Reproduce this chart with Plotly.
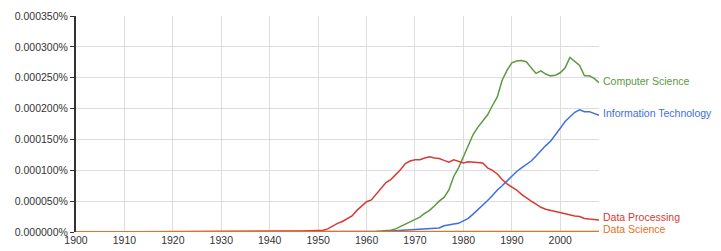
import plotly.graph_objects as go

years = list(range(1900, 2009))

# values in millionths of a percent (1e-6 %)
data_processing = (
    [0.4, 0.5, 0.6, 0.6, 0.6, 0.5, 0.5, 0.4, 0.4, 0.4,
     0.4, 0.4, 0.4, 0.4, 0.4, 0.4, 0.4, 0.4, 0.4, 0.4,
     0.4, 0.4, 0.4, 0.4, 0.4, 0.4, 0.5, 0.6, 0.7, 0.7,
     0.7, 0.7, 0.7, 0.6, 0.6, 0.6, 0.6, 0.6, 0.6, 0.7,
     0.8, 1.0, 1.2, 1.5, 1.5, 1.6, 1.6, 1.8, 2.0, 1.8,
     2.5, 3.0, 5.0, 10, 14, 17, 21, 26, 35, 42,
     49, 52, 61, 71, 80, 85, 93, 101, 111, 115,
     117, 117, 120, 122, 120, 119, 116, 113, 117, 115,
     112, 114, 113, 112, 112, 104, 100, 94, 85, 78,
     73, 68, 61, 55, 50, 45, 40, 37, 35, 33,
     31, 29, 28, 26, 25, 22, 21, 20, 19.5]
)
computer_science = (
    [0] * 55 +
    [0.2, 0.2, 0.3, 0.3, 0.4,
     0.5, 0.8, 1.0, 1.5, 2.0, 3, 5, 9, 13, 17,
     20, 24, 30, 35, 42, 50, 56, 68, 90, 104,
     122, 140, 158, 170, 180, 190, 205, 219, 246, 262,
     274, 277, 278, 276, 266, 257, 261, 256, 253, 254,
     258, 266, 283, 276, 270, 253, 253, 249, 242]
)
information_technology = (
    [0] * 56 +
    [0.2, 0.3, 0.4, 0.4,
     0.5, 0.6, 0.8, 1.0, 1.2, 1.5, 2.0, 2.5, 3.0, 3.5,
     4.0, 4.5, 5.0, 5.5, 6.0, 6.5, 10, 12, 13, 14,
     18, 22, 29, 36, 43, 51, 59, 68, 75, 83,
     90, 98, 104, 110, 115, 123, 132, 140, 147, 157,
     168, 179, 187, 194, 198, 195, 195, 192, 189]
)
data_science = (
    [0.5, 0.6, 0.9, 1.0, 1.0, 0.9, 0.7, 0.5, 0.5, 0.5,
     0.5, 0.5, 0.5, 0.5, 0.5, 0.5, 0.5, 0.5, 0.5, 0.5,
     0.5, 0.5, 0.5, 0.5, 0.5, 0.5, 0.6, 0.8, 0.9, 0.9,
     0.9, 0.9, 0.8, 0.8, 0.7, 0.6, 0.5, 0.5, 0.5, 0.5,
     0.5, 0.5, 0.5, 0.5, 0.5, 0.5, 0.5, 0.5, 0.5, 0.5,
     0.5, 0.5, 0.5, 0.5, 0.5, 0.5, 0.5, 0.5, 0.5, 0.5,
     0.5, 0.5, 0.5, 0.5, 0.5, 0.5, 0.5, 0.5, 0.5, 0.5,
     0.5, 0.5, 0.5, 0.5, 0.5, 0.5, 0.5, 0.5, 0.5, 0.5,
     0.5, 0.5, 0.5, 0.5, 0.5, 0.5, 0.5, 0.5, 0.5, 0.5,
     0.5, 0.5, 0.5, 0.5, 0.5, 0.5, 0.5, 0.5, 0.5, 0.5,
     0.5, 0.5, 0.5, 0.5, 0.5, 0.5, 0.5, 0.6, 0.7]
)

series = [
    ("Computer Science", computer_science, "#5b9a3f", 2),
    ("Information Technology", information_technology, "#3d70d9", 2),
    ("Data Processing", data_processing, "#d63a34", 3),
    ("Data Science", data_science, "#e8701f", 3),
]

x_ticks = list(range(1900, 2001, 10))
y_ticks = [0, 50, 100, 150, 200, 250, 300, 350]

fig = go.Figure()
for name, vals, color, yshift in series:
    yv = [v * 1e-6 for v in vals]
    fig.add_trace(go.Scatter(x=years, y=yv, mode="lines", name=name,
                             line=dict(color=color, width=1.5), hoverinfo="skip"))
    fig.add_annotation(x=years[-1], y=yv[-1], text=name, showarrow=False,
                       xanchor="left", yanchor="middle", xshift=2, yshift=yshift,
                       font=dict(color=color, size=10.5, family="Liberation Sans, Arial"))

fig.update_layout(
    width=721, height=251,
    margin=dict(l=76, r=122, t=16, b=19, autoexpand=False),
    paper_bgcolor="white", plot_bgcolor="white",
    showlegend=False,
    font=dict(family="Liberation Sans, Arial", size=10.5, color="#333"),
    xaxis=dict(range=[1900, 2008], tickvals=x_ticks, ticktext=[str(t) for t in x_ticks],
               showgrid=True, gridcolor="#dddddd", gridwidth=1, zeroline=False,
               showline=False, ticks="", ticklen=0, automargin=False),
    yaxis=dict(range=[0, 0.00035], tickvals=[v * 1e-6 for v in y_ticks],
               ticktext=["%.6f%%" % (v * 1e-6) for v in y_ticks],
               showgrid=True, gridcolor="#dddddd", gridwidth=1, zeroline=False,
               showline=True, linecolor="#333", linewidth=2, automargin=False,
               ticks="outside", ticklen=4, tickcolor="#333", tickwidth=1),
)

fig.write_html("out.html")
